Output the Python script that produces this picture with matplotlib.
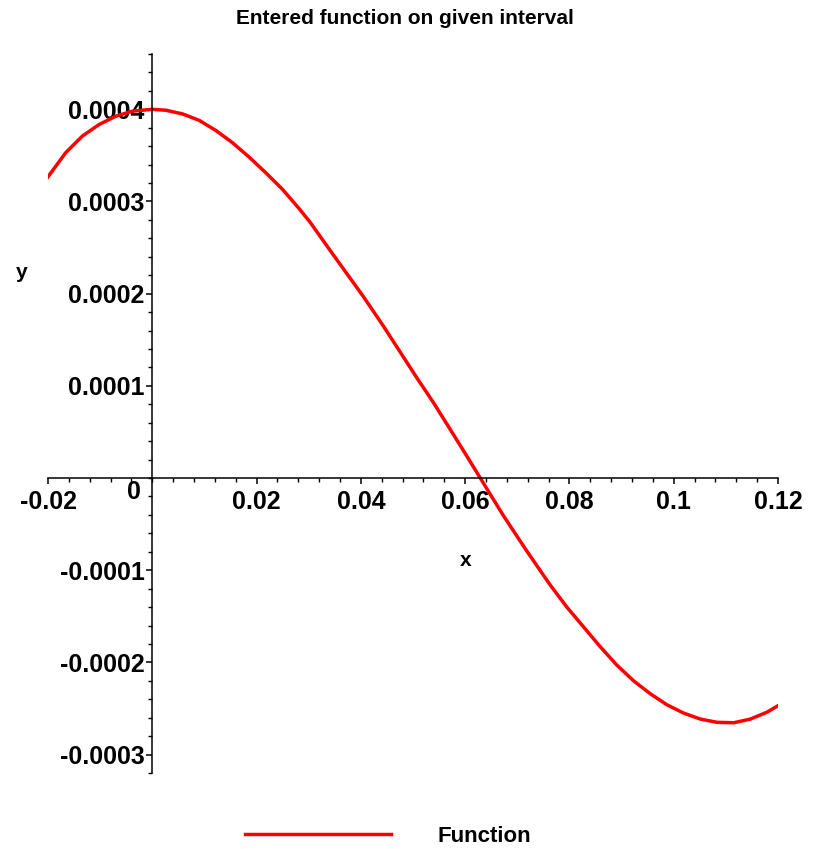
import matplotlib
matplotlib.use("Agg")
import matplotlib.pyplot as plt
from matplotlib.ticker import MultipleLocator, FixedLocator, FixedFormatter

# --- 曲线上读取的点 ---
x_vals = [-0.0201, -0.0166, -0.0134, -0.0102, -0.0070, -0.0038, 0.0, 0.0026,
          0.0058, 0.0090, 0.0122, 0.0154, 0.0186, 0.0218, 0.0250, 0.0282,
          0.0302, 0.0346, 0.0404, 0.0443, 0.0475, 0.0507, 0.0539, 0.0571,
          0.0603, 0.0629, 0.0673, 0.0718, 0.0763, 0.0795, 0.0827, 0.0859,
          0.0891, 0.0923, 0.0955, 0.0987, 0.1019, 0.1051, 0.1083, 0.1115,
          0.1147, 0.1179, 0.1200]
y_vals = [3.26e-4, 3.53e-4, 3.71e-4, 3.835e-4, 3.925e-4, 3.98e-4, 4.00e-4, 3.99e-4,
          3.95e-4, 3.88e-4, 3.77e-4, 3.637e-4, 3.48e-4, 3.31e-4, 3.13e-4, 2.92e-4,
          2.78e-4, 2.43e-4, 1.975e-4, 1.65e-4, 1.37e-4, 1.09e-4, 0.82e-4, 0.531e-4,
          0.24e-4, 0.0, -0.405e-4, -0.79e-4, -1.16e-4, -1.40e-4, -1.615e-4, -1.83e-4,
          -2.03e-4, -2.20e-4, -2.34e-4, -2.46e-4, -2.55e-4, -2.615e-4, -2.65e-4, -2.655e-4,
          -2.615e-4, -2.54e-4, -2.47e-4]

# 刻度标签
x_ticks = [-0.02, 0.02, 0.04, 0.06, 0.08, 0.10, 0.12]
x_labels = ["-0.02", "0.02", "0.04", "0.06", "0.08", "0.1", "0.12"]
y_ticks = [0.0004, 0.0003, 0.0002, 0.0001, -0.0001, -0.0002, -0.0003]
y_labels = ["0.0004", "0.0003", "0.0002", "0.0001", "-0.0001", "-0.0002", "-0.0003"]

plt.rcParams['font.family'] = ['Liberation Sans', 'DejaVu Sans']
plt.rcParams['font.weight'] = 'bold'

W, H = 817, 849
fig = plt.figure(figsize=(W / 100, H / 100), dpi=100)
ax = fig.add_axes([48 / W, 1 - 773 / H, (778 - 48) / W, (773 - 54) / H])

line, = ax.plot(x_vals, y_vals, color='#ff0000', linewidth=2.5)

ax.set_xlim(-0.02, 0.12)
ax.set_ylim(-0.00032, 0.00046)

# 坐标轴穿过原点 (Maple 风格)
ax.spines['top'].set_visible(False)
ax.spines['right'].set_visible(False)
ax.spines['left'].set_position(('data', 0))
ax.spines['bottom'].set_position(('data', 0))
for s in ('left', 'bottom'):
    ax.spines[s].set_linewidth(1.1)

ax.xaxis.set_major_locator(FixedLocator(x_ticks))
ax.xaxis.set_major_formatter(FixedFormatter(x_labels))
ax.xaxis.set_minor_locator(MultipleLocator(0.004))
ax.yaxis.set_major_locator(FixedLocator(y_ticks))
ax.yaxis.set_major_formatter(FixedFormatter(y_labels))
ax.yaxis.set_minor_locator(MultipleLocator(0.00002))

ax.tick_params(axis='both', which='major', direction='out', length=4.5, width=1.1,
               labelsize=18)
ax.tick_params(axis='both', which='minor', direction='out', length=3, width=1.0)
ax.tick_params(axis='x', pad=4)
ax.tick_params(axis='y', pad=1)
for lab in ax.get_xticklabels() + ax.get_yticklabels():
    lab.set_fontweight('bold')

# 原点处的 "0"
ax.annotate("0", xy=(0, 0), xytext=(-18, -14), textcoords='offset pixels',
            ha='center', va='center', fontsize=18, fontweight='bold')

# 标题和轴名
fig.text(405 / W, 1 - 19 / H, "Entered function on given interval", ha='center',
         va='center', fontsize=15, fontweight='bold')
fig.text(22 / W, 1 - 272 / H, "y", ha='center', va='center', fontsize=15,
         fontweight='bold')
fig.text(466 / W, 1 - 561 / H, "x", ha='center', va='center', fontsize=15,
         fontweight='bold')

# 图例
fig.legend([line], ["Function"], loc='center', bbox_to_anchor=(388 / W, 1 - 836 / H),
           frameon=False, handlelength=6.6, handletextpad=2.1,
           prop={'size': 16, 'weight': 'bold'})

fig.savefig("out.png", dpi=100)
